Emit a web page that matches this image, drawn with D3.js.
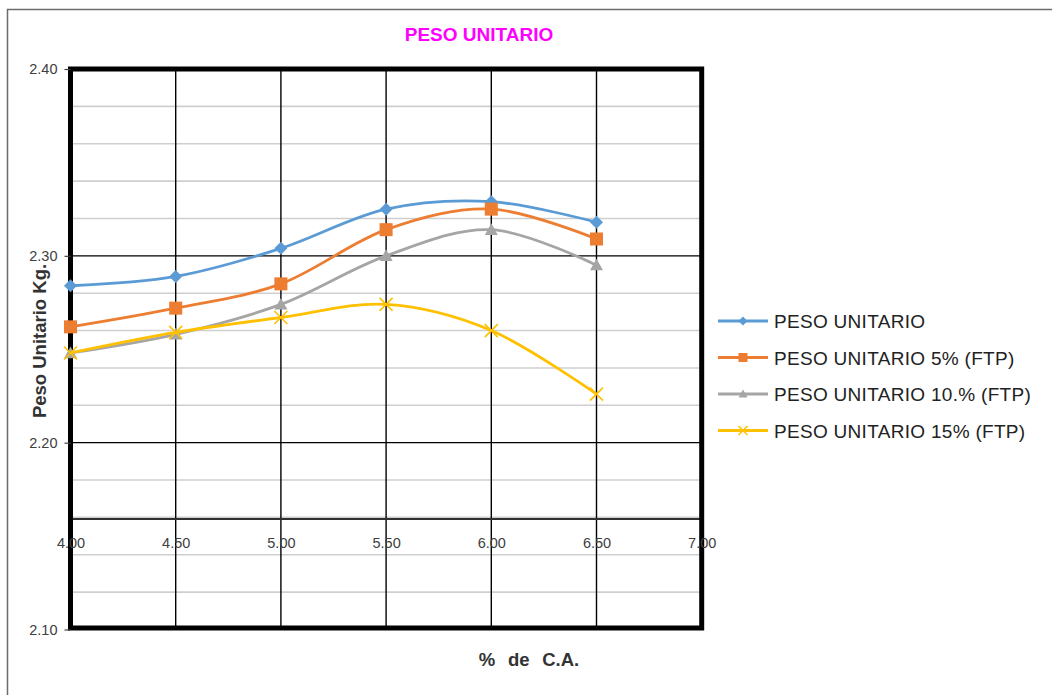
<!DOCTYPE html>
<html>
<head>
<meta charset="utf-8">
<script src="https://cdn.jsdelivr.net/npm/d3@7/dist/d3.min.js"></script>
<style>
  html, body { margin: 0; padding: 0; background: #fff; }
  svg { display: block; }
  text { font-family: "Liberation Sans", Arial, sans-serif; }
</style>
</head>
<body>
<svg id="chart" width="1052" height="695"></svg>
<script>
// % de cemento asfáltico (eje X)
const contenidoCA = [4.0, 4.5, 5.0, 5.5, 6.0, 6.5];

// Peso unitario por serie
const pesoUnitario   = [2.284, 2.289, 2.304, 2.325, 2.329, 2.318];
const pesoUnitario5  = [2.262, 2.272, 2.285, 2.314, 2.325, 2.309];
const pesoUnitario10 = [2.248, 2.258, 2.274, 2.300, 2.314, 2.295];
const pesoUnitario15 = [2.248, 2.259, 2.267, 2.274, 2.260, 2.226];

const seriesNames = [
  "PESO UNITARIO",
  "PESO UNITARIO 5% (FTP)",
  "PESO UNITARIO 10.% (FTP)",
  "PESO UNITARIO 15% (FTP)"
];

// Ticks
const xTicks = [4.0, 4.5, 5.0, 5.5, 6.0, 6.5, 7.0];
const yMajorTicks = [2.10, 2.20, 2.30, 2.40];
const yMinorTicks = [2.12, 2.14, 2.16, 2.18, 2.22, 2.24, 2.26, 2.28, 2.32, 2.34, 2.36, 2.38];
const xAxisCross = 2.16;

const colors = ["#5B9BD5", "#ED7D31", "#A5A5A5", "#FFC000"];
const markers = ["diamond", "square", "triangle", "cross"];

const svg = d3.select("#chart");

// Chart frame (left and top edges visible)
svg.append("path")
  .attr("d", "M7.5,695 V9.5 H1052")
  .attr("fill", "none")
  .attr("stroke", "#6b6b6b")
  .attr("stroke-width", 1.5);

const x = d3.scaleLinear().domain([4.0, 7.0]).range([70.5, 701.7]);
const y = d3.scaleLinear().domain([2.10, 2.40]).range([629.5, 69]);

// Title
svg.append("text")
  .attr("x", 479).attr("y", 41)
  .attr("text-anchor", "middle")
  .attr("font-size", 19)
  .attr("font-weight", "bold")
  .attr("fill", "#FF00FF")
  .text("PESO UNITARIO");

const plot = svg.append("g");

// Minor horizontal gridlines
plot.selectAll("line.minor").data(yMinorTicks).join("line")
  .attr("class", "minor")
  .attr("x1", x(4.0)).attr("x2", x(7.0))
  .attr("y1", d => y(d)).attr("y2", d => y(d))
  .attr("stroke", "#cfcfcf").attr("stroke-width", 1.6);

// X tick labels sit where the horizontal axis crosses (2.16)
const xAxis = d3.axisBottom(x)
  .tickValues(xTicks)
  .tickFormat(d3.format(".2f"))
  .tickSize(0)
  .tickPadding(20);
const gx = svg.append("g")
  .attr("transform", `translate(0,${y(xAxisCross)})`)
  .call(xAxis);
gx.select(".domain").remove();
gx.selectAll("text")
  .attr("font-size", 14.5)
  .attr("fill", "#404040")
  .style("font-family", "'Liberation Sans', Arial, sans-serif");

// Vertical gridlines
plot.selectAll("line.vgrid").data(xTicks.slice(1, -1)).join("line")
  .attr("class", "vgrid")
  .attr("x1", d => x(d)).attr("x2", d => x(d))
  .attr("y1", y(2.40)).attr("y2", y(2.10))
  .attr("stroke", "#000").attr("stroke-width", 1.4);

// Major horizontal gridlines
plot.selectAll("line.major").data([2.20, 2.30]).join("line")
  .attr("class", "major")
  .attr("x1", x(4.0)).attr("x2", x(7.0))
  .attr("y1", d => y(d)).attr("y2", d => y(d))
  .attr("stroke", "#000").attr("stroke-width", 1.4);

// Horizontal axis line
plot.append("line")
  .attr("x1", x(4.0)).attr("x2", x(7.0))
  .attr("y1", y(xAxisCross) + 1.5).attr("y2", y(xAxisCross) + 1.5)
  .attr("stroke", "#303030").attr("stroke-width", 2);

// Y axis
const yAxis = d3.axisLeft(y)
  .tickValues(yMajorTicks)
  .tickFormat(d3.format(".2f"))
  .tickSize(6)
  .tickPadding(7);
const gy = svg.append("g")
  .attr("transform", `translate(${x(4.0)},0)`)
  .call(yAxis);
gy.select(".domain").remove();
gy.selectAll(".tick line").attr("stroke", "#404040").attr("stroke-width", 1.2);
gy.selectAll("text")
  .attr("font-size", 14.5)
  .attr("fill", "#404040")
  .style("font-family", "'Liberation Sans', Arial, sans-serif");

// Plot area border
plot.append("rect")
  .attr("x", x(4.0)).attr("y", y(2.40))
  .attr("width", x(7.0) - x(4.0))
  .attr("height", y(2.10) - y(2.40) - 1.5)
  .attr("fill", "none")
  .attr("stroke", "#000")
  .attr("stroke-width", 5);

// Axis titles
svg.append("text")
  .attr("transform", "translate(46,341) rotate(-90)")
  .attr("text-anchor", "middle")
  .attr("font-size", 18.5)
  .attr("font-weight", "bold")
  .attr("fill", "#333")
  .text("Peso Unitario Kg.");

svg.append("text")
  .attr("x", 529).attr("y", 666)
  .attr("text-anchor", "middle")
  .attr("font-size", 18.5)
  .attr("font-weight", "bold")
  .attr("word-spacing", 7.5)
  .attr("fill", "#333")
  .text("% de C.A.");

// Marker drawing
function drawMarker(g, type, color, size) {
  const h = size / 2;
  if (type === "diamond") {
    g.append("path").attr("d", `M0,${-h} L${h},0 L0,${h} L${-h},0 Z`).attr("fill", color);
  } else if (type === "square") {
    g.append("rect").attr("x", -h).attr("y", -h).attr("width", size).attr("height", size).attr("fill", color);
  } else if (type === "triangle") {
    g.append("path").attr("d", `M0,${-h} L${h},${h * 0.8} L${-h},${h * 0.8} Z`).attr("fill", color);
  } else {
    g.append("path").attr("d", `M${-h},${-h} L${h},${h} M${h},${-h} L${-h},${h}`)
      .attr("stroke", color).attr("stroke-width", 1.6).attr("fill", "none");
  }
}

const allSeries = [pesoUnitario, pesoUnitario5, pesoUnitario10, pesoUnitario15];
const line = d3.line()
  .x(d => x(d[0]))
  .y(d => y(d[1]))
  .curve(d3.curveCardinal.tension(0));

const markerSizes = [13, 13, 13, 13];

allSeries.forEach((vals, i) => {
  const pts = contenidoCA.map((c, j) => [c, vals[j]]);
  const g = svg.append("g");
  g.append("path")
    .datum(pts)
    .attr("d", line)
    .attr("fill", "none")
    .attr("stroke", colors[i])
    .attr("stroke-width", 2.8);
  pts.forEach(p => {
    const mg = g.append("g").attr("transform", `translate(${x(p[0])},${y(p[1])})`);
    drawMarker(mg, markers[i], colors[i], markerSizes[i]);
  });
});

// Legend
const legend = svg.append("g");
const legendRowY = [321, 357.5, 394, 430.5];
seriesNames.forEach((name, i) => {
  const row = legend.append("g").attr("transform", `translate(0,${legendRowY[i]})`);
  row.append("line")
    .attr("x1", 718).attr("x2", 768)
    .attr("y1", 0).attr("y2", 0)
    .attr("stroke", colors[i]).attr("stroke-width", 2.8);
  const mg = row.append("g").attr("transform", "translate(743,0)");
  drawMarker(mg, markers[i], colors[i], 9);
  row.append("text")
    .attr("x", 774).attr("y", 7)
    .attr("font-size", 19)
    .attr("letter-spacing", 0.3)
    .attr("fill", "#222")
    .text(name);
});
</script>
</body>
</html>
